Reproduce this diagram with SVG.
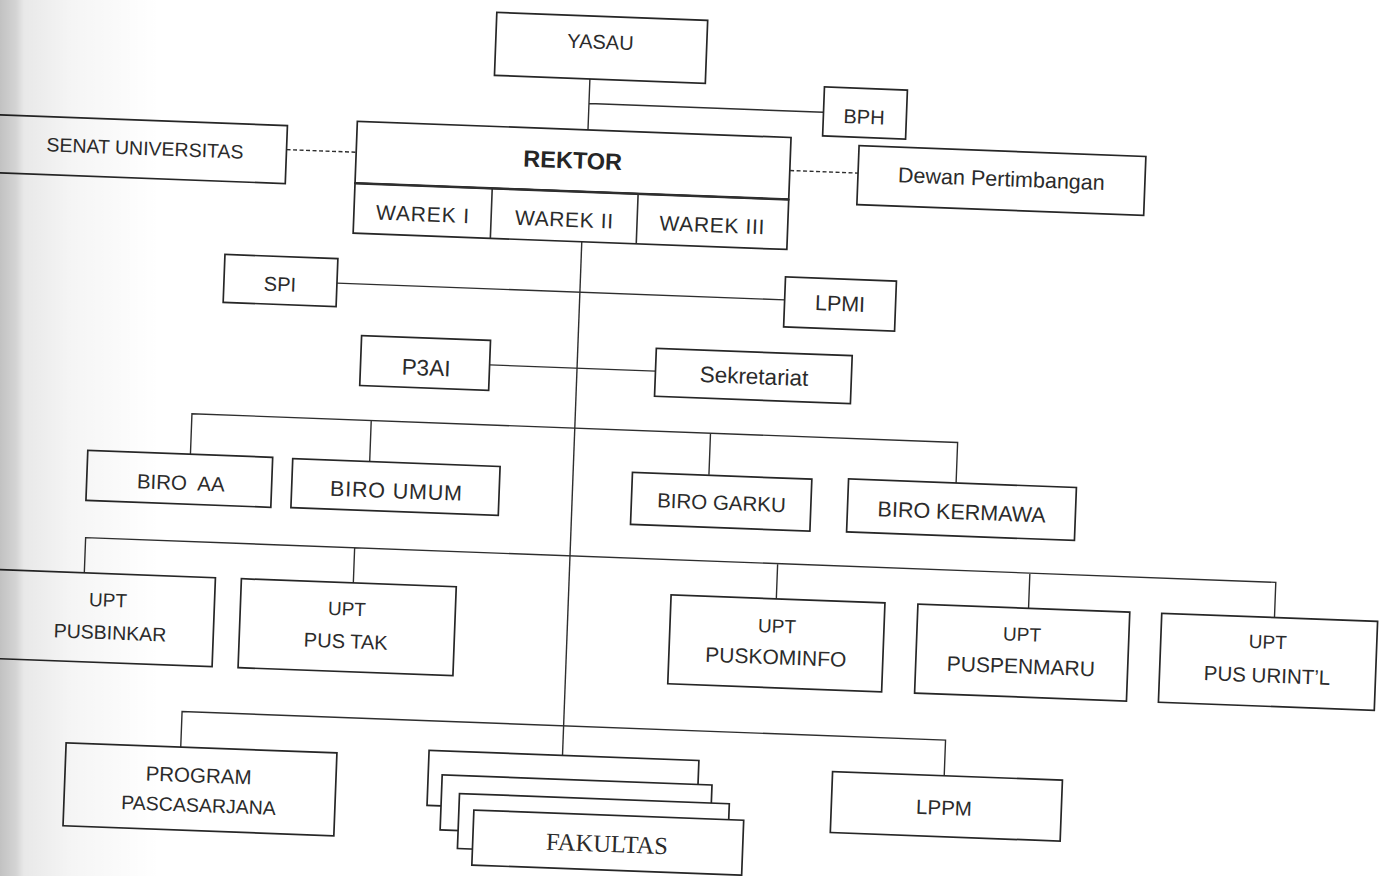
<svg xmlns="http://www.w3.org/2000/svg" width="1382" height="876" viewBox="0 0 1382 876">
<defs>
<style>
.box{fill:#fff;stroke:#262626;stroke-width:1.7}
.ln{fill:none;stroke:#2e2e2e;stroke-width:1.4}
.dash{fill:none;stroke:#2e2e2e;stroke-width:1.4;stroke-dasharray:4 2.5}
.t{font-family:"Liberation Sans",Arial,sans-serif;font-size:20px;fill:#2b2b2b;text-anchor:middle}
.b{font-weight:bold;fill:#262626}
.serif{font-family:"Liberation Serif","Times New Roman",serif}
</style>
<linearGradient id="shade" x1="0" y1="0" x2="1" y2="0">
<stop offset="0" stop-color="#000" stop-opacity="0.24"/>
<stop offset="0.1" stop-color="#000" stop-opacity="0.17"/>
<stop offset="0.15" stop-color="#000" stop-opacity="0.09"/>
<stop offset="0.45" stop-color="#000" stop-opacity="0.04"/>
<stop offset="1" stop-color="#000" stop-opacity="0"/>
</linearGradient>
</defs>
<rect width="1382" height="876" fill="#fff"/>
<g transform="rotate(2.15 691 438)">
<g id="connectors">
<path class="ln" d="M576.5 83V134M576.5 107.5H811.2"/>
<path class="dash" d="M276 165H345.7"/>
<path class="dash" d="M780 167H848"/>
<path class="ln" d="M574.5 246V760"/>
<path class="ln" d="M331.4 296.5H779.4"/>
<path class="ln" d="M487 372.5H653"/>
<path class="ln" d="M191.4 474V432.5H957.6V474M370.8 432.5V474M710.3 432.5V474"/>
<path class="ln" d="M89.8 596V560.3H1280.8V596M359 560.3V596M782.3 560.3V596M1034.7 560.3V596"/>
<path class="ln" d="M192.7 766V730.4H956.7V766"/>
</g>
<g id="yasau"><rect class="box" x="481" y="20" width="211" height="63"/><text class="t" x="585.7" y="52.6">YASAU</text></g>
<g id="bph"><rect class="box" x="811.2" y="82.2" width="83" height="49"/><text class="t" x="851.9" y="117.6">BPH</text></g>
<g id="senat"><rect class="box" x="-40" y="141" width="316" height="58"/><text class="t" x="134.5" y="175.7" style="font-size:19.5px">SENAT UNIVERSITAS</text></g>
<g id="rektor">
<rect class="box" x="345.7" y="134" width="434" height="62"/>
<text class="t b" x="562.4" y="173" style="font-size:23.5px">REKTOR</text>
</g>
<g id="warek">
<rect class="box" x="345.7" y="196" width="434" height="50"/>
<path class="ln" d="M345.7 196H779.7" style="stroke-width:2.6"/>
<path class="ln" d="M483 196V246M629 196V246" style="stroke-width:1.6"/>
<text class="t" x="414.4" y="231.6" style="font-size:21px" textLength="93">WAREK I</text>
<text class="t" x="556" y="231.6" style="font-size:21px" textLength="98">WAREK II</text>
<text class="t" x="704" y="231.6" style="font-size:21px" textLength="105">WAREK III</text>
</g>
<g id="dewan"><rect class="box" x="848" y="139.6" width="287" height="59"/><text class="t" x="991.5" y="174.7" style="font-size:21.5px">Dewan Pertimbangan</text></g>
<g id="spi"><rect class="box" x="218.4" y="272" width="113" height="48"/><text class="t" x="274.5" y="306.7">SPI</text></g>
<g id="lpmi"><rect class="box" x="779.4" y="273.5" width="111" height="50"/><text class="t" x="834.9" y="305.5" style="font-size:21.5px">LPMI</text></g>
<g id="p3ai"><rect class="box" x="358" y="348" width="129" height="50"/><text class="t" x="423.6" y="385.5" style="font-size:22.5px">P3AI</text></g>
<g id="sekretariat"><rect class="box" x="653" y="349.7" width="196" height="48"/><text class="t" x="751.7" y="381.7" style="font-size:22.5px">Sekretariat</text></g>
<g id="biro-aa"><rect class="box" x="88.7" y="473" width="185" height="50"/><text class="t" x="182.8" y="509" style="font-size:20.5px" xml:space="preserve">BIRO  AA</text></g>
<g id="biro-umum"><rect class="box" x="293.8" y="473.6" width="207.5" height="49"/><text class="t" x="398.2" y="509.3" style="font-size:21.5px" textLength="132">BIRO UMUM</text></g>
<g id="biro-garku"><rect class="box" x="633.8" y="474.6" width="179.5" height="52"/><text class="t" x="723.9" y="508.6" style="font-size:20.5px">BIRO GARKU</text></g>
<g id="biro-kermawa"><rect class="box" x="850" y="473" width="228" height="53"/><text class="t" x="964.2" y="509.2" style="font-size:21.5px">BIRO KERMAWA</text></g>
<g id="upt-pusbinkar"><rect class="box" x="-10" y="595.5" width="231" height="89"/><text class="t" x="114.5" y="628.5" style="font-size:19px">UPT</text><text class="t" x="117.7" y="661" style="font-size:19.5px">PUSBINKAR</text></g>
<g id="upt-pustak"><rect class="box" x="247" y="595.5" width="215" height="89"/><text class="t" x="353.6" y="628.3" style="font-size:19px">UPT</text><text class="t" x="353.6" y="661" style="font-size:20px">PUS TAK</text></g>
<g id="upt-puskominfo"><rect class="box" x="677" y="595.5" width="214" height="89"/><text class="t" x="784" y="629.3" style="font-size:19px">UPT</text><text class="t" x="784" y="661" style="font-size:21px">PUSKOMINFO</text></g>
<g id="upt-puspenmaru"><rect class="box" x="924" y="595.5" width="212" height="89"/><text class="t" x="1029.2" y="628.3" style="font-size:19px">UPT</text><text class="t" x="1029.2" y="660.9" style="font-size:21px">PUSPENMARU</text></g>
<g id="upt-pusurintl"><rect class="box" x="1168" y="595.5" width="216" height="89"/><text class="t" x="1275" y="626.8" style="font-size:19px">UPT</text><text class="t" x="1275.5" y="660.7" style="font-size:20.5px">PUS URINT’L</text></g>
<g id="program-pascasarjana"><rect class="box" x="78" y="766" width="271" height="83"/><text class="t" x="211.6" y="800.7" style="font-size:20.5px">PROGRAM</text><text class="t" x="212.7" y="830.2" style="font-size:19.5px">PASCASARJANA</text></g>
<g id="fakultas">
<rect class="box" x="441" y="760" width="270" height="55"/>
<rect class="box" x="455" y="784" width="270" height="55"/>
<rect class="box" x="473" y="802" width="270" height="55"/>
<rect class="box" x="488" y="818" width="270" height="55"/>
<text class="t serif" x="622.3" y="854.8" style="font-size:24.5px">FAKULTAS</text>
</g>
<g id="lppm"><rect class="box" x="845" y="766" width="230" height="61"/><text class="t" x="957.7" y="805" style="font-size:20.5px">LPPM</text></g>
</g>
<rect x="0" y="0" width="160" height="876" fill="url(#shade)"/>
</svg>
